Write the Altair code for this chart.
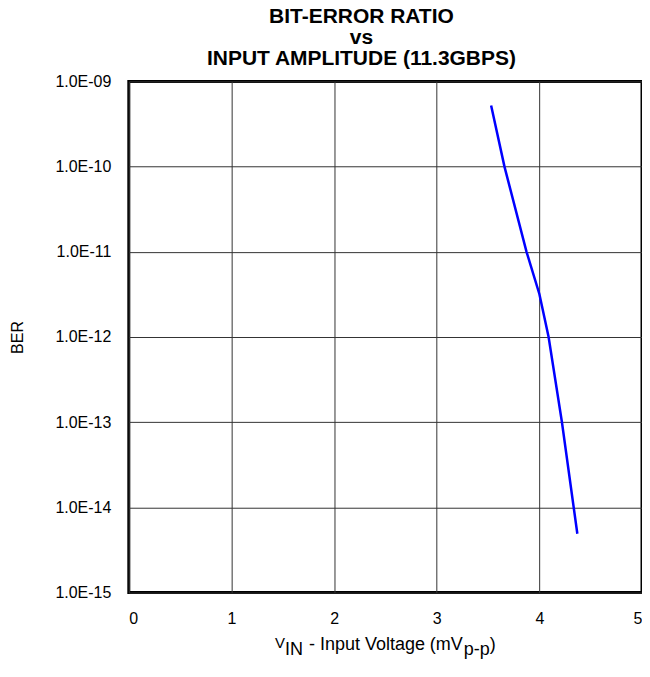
import altair as alt
import pandas as pd

# Data
vin = [3.53, 3.66, 3.875, 4.0, 4.09, 4.22, 4.37]
ber = [5.2e-10, 1.0e-10, 1.0e-11, 3.2e-12, 1.0e-12, 1.0e-13, 4.9e-15]
x_ticks = [0, 1, 2, 3, 4, 5]
y_ticks = [1e-15, 1e-14, 1e-13, 1e-12, 1e-11, 1e-10, 1e-9]
title_lines = ["BIT-ERROR RATIO", "vs", "INPUT AMPLITUDE (11.3GBPS)"]
y_title = "BER"

FONT = "Liberation Sans"
W, H = 514, 512

df = pd.DataFrame({"vin": vin, "ber": ber})

label_expr = ("'1.0E-' + (round(-log(datum.value)/LN10) < 10 ? '0' : '') + "
              "round(-log(datum.value)/LN10)")

line = alt.Chart(df).mark_line(color="#0000FF", strokeWidth=2.5).encode(
    x=alt.X("vin:Q",
            scale=alt.Scale(domain=[0, 5], nice=False, zero=False),
            axis=alt.Axis(values=x_ticks, title=None, grid=True, gridColor="#333",
                          gridOpacity=1, ticks=False, domain=False, labelFontSize=16,
                          labelPadding=18, labelFont=FONT, labelColor="black",
                          format="d")),
    y=alt.Y("ber:Q",
            scale=alt.Scale(type="log", domain=[1e-15, 1e-9], nice=False),
            axis=alt.Axis(values=y_ticks, title=y_title, grid=True, gridColor="#333",
                          gridOpacity=1, ticks=False, domain=False, labelFontSize=16,
                          labelPadding=18, labelFont=FONT, labelColor="black",
                          labelExpr=label_expr, titleFont=FONT, titleFontSize=16,
                          titleFontWeight="normal", titleColor="black",
                          titlePadding=29)),
)

# x-axis title with subscripts: (text, font size, baseline shift, gap before)
fs = 18
pieces = [("V", 15, -2, 0), ("IN", fs, 6, 0), ("- Input Voltage (mV", fs, 0, 6),
          ("p-p", fs, 6, 0), (")", fs, 0, 0)]
em = {"V": 0.667, "IN": 1.0, "- Input Voltage (mV": 8.615, "p-p": 1.445, ")": 0.333}
total = sum(em[t] * f + g for t, f, _, g in pieces)
x0 = W / 2 - total / 2
base_y = H + 57
layers = [line]
cur = x0
for t, f, dy, gap in pieces:
    cur += gap
    layers.append(
        alt.Chart(df.head(1)).mark_text(text=t, fontSize=f, font=FONT, align="left",
                                        baseline="alphabetic", color="black").encode(
            x=alt.value(cur), y=alt.value(base_y + dy))
    )
    cur += em[t] * f

chart = alt.layer(*layers).properties(
    width=W, height=H,
    title=alt.TitleParams(text=title_lines, fontSize=21, fontWeight="bold", font=FONT,
                          lineHeight=21, anchor="middle", dx=-24, offset=4,
                          color="black"),
    autosize=alt.AutoSizeParams(type="none"),
    padding={"left": 121, "top": 73, "right": 0, "bottom": 74},
).configure_view(stroke="black", strokeWidth=3)

chart.save("out.html", embed_options={"renderer": "svg", "actions": False})
